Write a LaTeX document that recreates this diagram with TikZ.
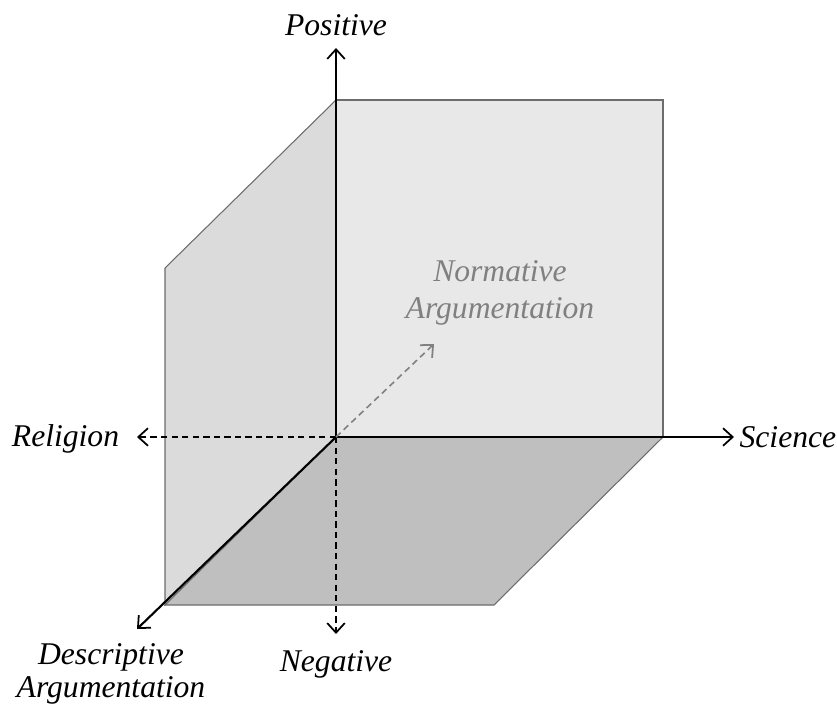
\documentclass[tikz,border=0pt]{standalone}
\usepackage{fontspec}
\setmainfont{Liberation Serif}
\usetikzlibrary{arrows.meta,positioning}

\begin{document}
\begin{tikzpicture}[
    x={(0.02cm,0)}, y={(0,-0.02cm)},
    >={Straight Barb[length=5.5pt,width=10pt,line width=1pt]},
    face/.style={draw=gray!85!black, line width=0.6pt},
    axis/.style={line width=1.2pt, ->},
    axisdash/.style={axis, line width=1pt, dash pattern=on 3.6pt off 2.4pt},
    lbl/.style={font=\itshape\fontsize{18}{20}\selectfont, inner sep=2pt, align=center},
   ]

\useasboundingbox (0,0) rectangle (837,706);

% faces
\fill[gray!18, face] (336,100) -- (663,100) -- (663,437) -- (336,437) -- cycle;
\fill[gray!28, face] (165,268) -- (336,100) -- (336,437) -- (165,605) -- cycle;
\fill[gray!50, face] (336,437) -- (663,437) -- (494,605) -- (165,605) -- cycle;

% axes
\coordinate (o) at (336,437);
\coordinate (top) at (336,48);
\coordinate (right) at (734,437);
\coordinate (left) at (137,437);
\coordinate (down) at (336,634);
\coordinate (diag) at (137,629);
\coordinate (norm) at (434,344);

\node[lbl, above=5pt of top] (pos) {Positive};
\node[lbl, right=2pt of right, inner sep=1pt] (sci) {Science};
\node[lbl, left=9pt of left, inner sep=1pt, yshift=-1pt] (rel) {Religion};
\node[lbl, below=7pt of down] (neg) {Negative};
\node[lbl, font=\itshape\fontsize{18}{19}\selectfont] (desc) at (111,674) {Descriptive\\Argumentation};
\node[lbl, text=gray, font=\itshape\fontsize{18}{21}\selectfont] (nor) at (500,293) {Normative\\Argumentation};

\draw[axis] (o) -- (top);
\draw[axis] (o) -- (right);
\draw[axis] (o) -- (diag);
\draw[axisdash] (o) -- (left);
\draw[axisdash] (o) -- (down);
\draw[axisdash, gray, line width=0.9pt] (o) -- (norm);

\end{tikzpicture}
\end{document}
